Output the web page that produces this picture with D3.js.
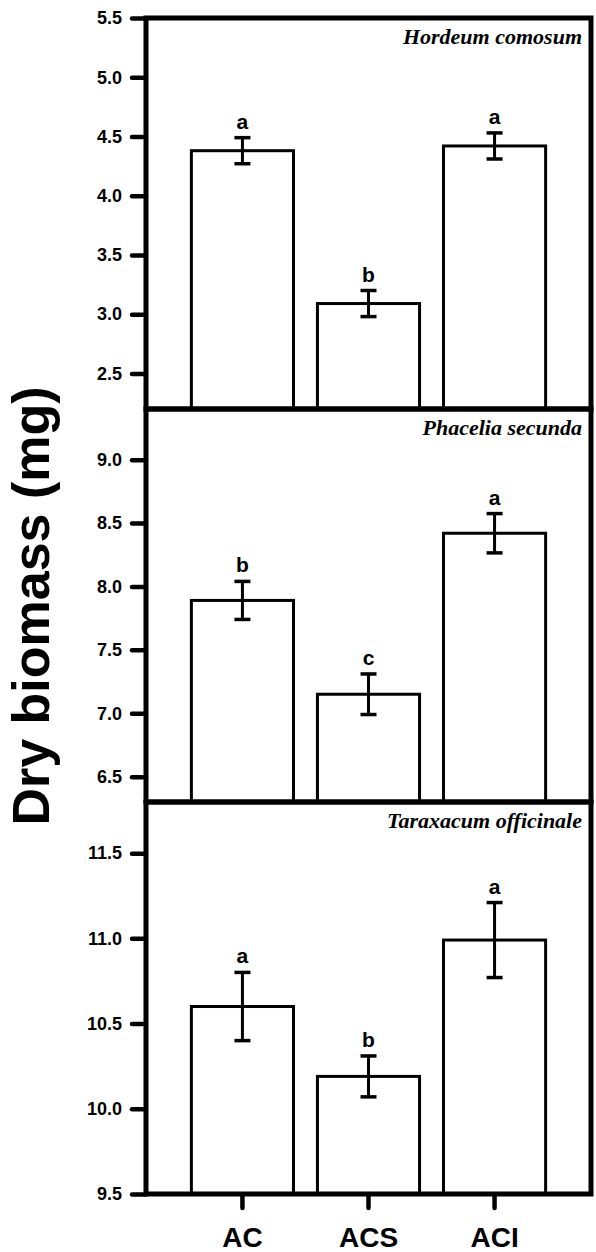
<!DOCTYPE html>
<html>
<head>
<meta charset="utf-8">
<script src="https://cdn.jsdelivr.net/npm/d3@7"></script>
<style>
  body { margin: 0; background: #fff; }
  svg { display: block; }
  .tick text { font-family: Arial, "Liberation Sans", sans-serif; font-weight: bold; }
</style>
</head>
<body>
<svg id="chart"></svg>
<script>
// treatments and species
const groups = ["AC", "ACS", "ACI"];
const species = ["Hordeum comosum", "Phacelia secunda", "Taraxacum officinale"];

// mean dry biomass (mg) and error (+/-)
const hordeumMean = [4.38, 3.09, 4.42];
const hordeumErr = [0.11, 0.11, 0.11];
const hordeumLetters = ["a", "b", "a"];

const phaceliaMean = [7.89, 7.15, 8.42];
const phaceliaErr = [0.15, 0.16, 0.155];
const phaceliaLetters = ["b", "c", "a"];

const taraxacumMean = [10.60, 10.19, 10.99];
const taraxacumErr = [0.20, 0.12, 0.22];
const taraxacumLetters = ["a", "b", "a"];

// axis limits and ticks
const hordeumDomain = [2.2, 5.5];
const phaceliaDomain = [6.3, 9.4];
const taraxacumDomain = [9.5, 11.8];
const hordeumTicks = [2.5, 3.0, 3.5, 4.0, 4.5, 5.0, 5.5];
const phaceliaTicks = [6.5, 7.0, 7.5, 8.0, 8.5, 9.0];
const taraxacumTicks = [9.5, 10.0, 10.5, 11.0, 11.5];

const width = 596, height = 1252;
const left = 146, right = 591;
const panelEdges = [18, 409, 802, 1194];

const panels = [
  { name: species[0], mean: hordeumMean, err: hordeumErr, letters: hordeumLetters, domain: hordeumDomain, ticks: hordeumTicks },
  { name: species[1], mean: phaceliaMean, err: phaceliaErr, letters: phaceliaLetters, domain: phaceliaDomain, ticks: phaceliaTicks },
  { name: species[2], mean: taraxacumMean, err: taraxacumErr, letters: taraxacumLetters, domain: taraxacumDomain, ticks: taraxacumTicks }
];

const svg = d3.select("#chart")
  .attr("width", width)
  .attr("height", height);

const x = d3.scaleBand()
  .domain(groups)
  .range([left, right])
  .paddingInner(0.19)
  .paddingOuter(0.36);

panels.forEach((p, k) => {
  const top = panelEdges[k], bottom = panelEdges[k + 1];
  const y = d3.scaleLinear().domain(p.domain).range([bottom, top]);
  const rows = groups.map((g, i) => ({ g: g, v: p.mean[i], e: p.err[i], l: p.letters[i] }));

  const g = svg.append("g");

  // bars
  g.selectAll("rect.bar")
    .data(rows)
    .enter()
    .append("rect")
    .attr("class", "bar")
    .attr("x", d => x(d.g))
    .attr("y", d => y(d.v))
    .attr("width", x.bandwidth())
    .attr("height", d => bottom - y(d.v))
    .attr("fill", "white")
    .attr("stroke", "black")
    .attr("stroke-width", 3);

  // error bars
  const cx = d => x(d.g) + x.bandwidth() / 2;
  g.selectAll("line.err")
    .data(rows)
    .enter()
    .append("line")
    .attr("x1", cx).attr("x2", cx)
    .attr("y1", d => y(d.v - d.e))
    .attr("y2", d => y(d.v + d.e))
    .attr("stroke", "black")
    .attr("stroke-width", 3);

  [1, -1].forEach(s => {
    g.selectAll(null)
      .data(rows)
      .enter()
      .append("line")
      .attr("x1", d => cx(d) - 8).attr("x2", d => cx(d) + 8)
      .attr("y1", d => y(d.v + s * d.e))
      .attr("y2", d => y(d.v + s * d.e))
      .attr("stroke", "black")
      .attr("stroke-width", 3.5);
  });

  // significance letters
  g.selectAll("text.letter")
    .data(rows)
    .enter()
    .append("text")
    .attr("x", cx)
    .attr("y", d => y(d.v + d.e) - 9)
    .attr("text-anchor", "middle")
    .style("font-family", "Arial, 'Liberation Sans', sans-serif")
    .style("font-weight", "bold")
    .style("font-size", "21px")
    .text(d => d.l);

  // species name
  g.append("text")
    .attr("x", right - 9)
    .attr("y", top + 26)
    .attr("text-anchor", "end")
    .style("font-family", "'Times New Roman', 'Liberation Serif', serif")
    .style("font-style", "italic")
    .style("font-weight", "bold")
    .style("font-size", "22px")
    .text(p.name);

  // frame
  g.append("rect")
    .attr("x", left)
    .attr("y", top)
    .attr("width", right - left)
    .attr("height", bottom - top)
    .attr("fill", "none")
    .attr("stroke", "black")
    .attr("stroke-width", 5);

  // y axis
  const yAxis = d3.axisLeft(y)
    .tickValues(p.ticks)
    .tickFormat(d3.format(".1f"))
    .tickSize(14)
    .tickSizeOuter(0)
    .tickPadding(10);

  const ya = g.append("g")
    .attr("transform", `translate(${left},0)`)
    .call(yAxis);
  ya.select(".domain").remove();
  ya.selectAll(".tick line").attr("stroke-width", 4.5).attr("stroke-linecap", "round");
  ya.selectAll(".tick text").style("font-size", "18px").attr("fill", "black");
});

// x axis
const xAxis = d3.axisBottom(x)
  .tickSize(14)
  .tickSizeOuter(0)
  .tickPadding(19);

const xa = svg.append("g")
  .attr("transform", `translate(0,${panelEdges[3]})`)
  .call(xAxis);
xa.select(".domain").remove();
xa.selectAll(".tick line").attr("stroke-width", 4.5).attr("stroke-linecap", "round");
xa.selectAll(".tick text").style("font-size", "28px").attr("fill", "black");

// y axis title
svg.append("text")
  .attr("transform", `translate(49,${(385 + 827) / 2}) rotate(-90)`)
  .attr("text-anchor", "middle")
  .style("font-family", "Arial, 'Liberation Sans', sans-serif")
  .style("font-weight", "bold")
  .style("font-size", "52px")
  .text("Dry biomass (mg)");
</script>
</body>
</html>
